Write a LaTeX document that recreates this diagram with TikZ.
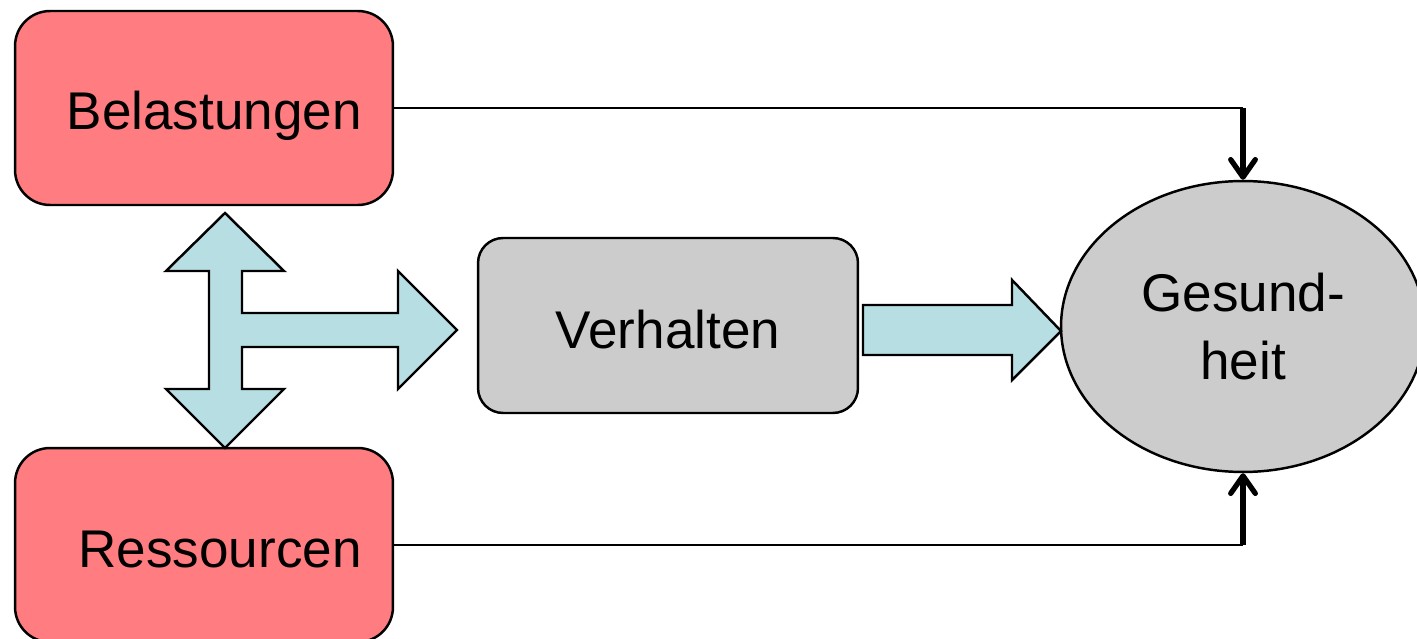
\documentclass[tikz,border=0pt]{standalone}
\usepackage{fontspec}
\setmainfont{Liberation Sans}
\usetikzlibrary{shapes.geometric,arrows.meta}

\definecolor{loadred}{HTML}{FF7C80}
\definecolor{flowblue}{HTML}{B7DEE3}
\definecolor{midgray}{HTML}{CCCCCC}

\tikzset{
  txt/.style={font=\fontsize{30.2}{36.5}\selectfont, inner sep=0pt},
  redbox/.style={draw, line width=1.4pt, fill=loadred, rounded corners=0.7cm,
    minimum width=7.56cm, minimum height=3.88cm, inner sep=0pt},
  graybox/.style={draw, line width=1.4pt, fill=midgray, rounded corners=0.5cm,
    minimum width=7.6cm, minimum height=3.5cm, inner sep=0pt, txt,
    text height=0.92cm},
  goal/.style={draw, line width=1.4pt, fill=midgray, ellipse,
    minimum width=7.28cm, minimum height=5.82cm, inner sep=0pt, txt,
    align=center},
  blockarrow/.style={draw, line width=1.4pt, fill=flowblue, line join=miter},
  conn/.style={line width=1.2pt},
  feed/.style={line width=3pt,
    -{Straight Barb[length=10pt,width=14pt,line cap=round,line join=round]}},
}

\begin{document}
\begin{tikzpicture}[x=0.02cm,y=-0.02cm]
  \useasboundingbox (0,0) rectangle (1417,639);

  % factor boxes
  \node[redbox] (bel) at (204,108) {};
  \node[redbox] (res) at (204,545) {};
  \node[txt, anchor=base east] (belt) at (362,129) {Belastungen};
  \node[txt, anchor=base east] (rest) at (362,567) {Ressourcen};

  % behaviour and outcome
  \node[graybox] (ver) at (668,325.5) {Verhalten};
  \node[goal] (ge) at (1243,326.5) {Gesund-\\[2pt]heit};

  % three-way block arrow between the factor boxes and behaviour
  \path[blockarrow] (225,213) -- (284,271) -- (242,271) -- (242,313)
    -- (398,313) -- (398,271) -- (457,330) -- (398,389) -- (398,347)
    -- (242,347) -- (242,389) -- (284,389) -- (225,448) -- (166,389)
    -- (209,389) -- (209,271) -- (166,271) -- cycle;

  % block arrow from behaviour to health
  \path[blockarrow] (863,305) -- (1012,305) -- (1012,280) -- (1061,331)
    -- (1012,380) -- (1012,355) -- (863,355) -- cycle;

  % direct paths into health
  \coordinate (c1) at (bel.east -| ge.north);
  \coordinate (c2) at (res.east -| ge.south);
  \draw[conn] (bel.east) -- (c1);
  \draw[feed] (c1) -- (ge.north);
  \draw[conn] (res.east) -- (c2);
  \draw[feed] (c2) -- (ge.south);
\end{tikzpicture}
\end{document}
